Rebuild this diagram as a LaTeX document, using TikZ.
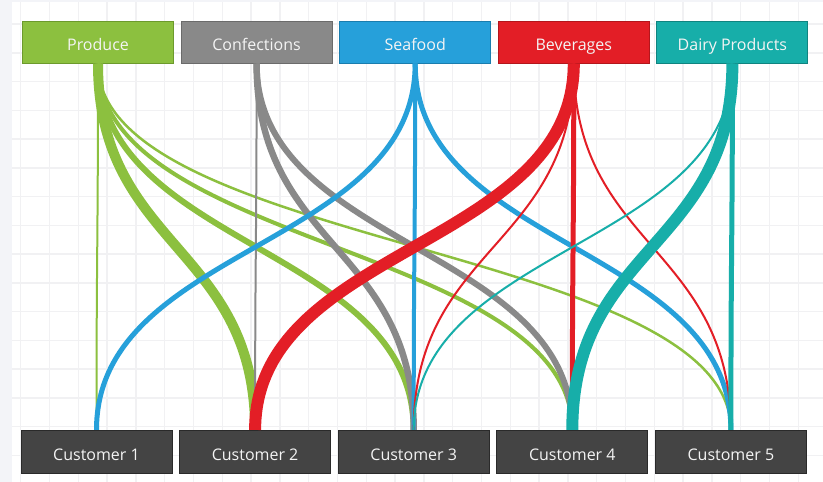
\documentclass[tikz,border=0pt]{standalone}
\usepackage{fontspec}
\setmainfont{Open Sans}
\usepackage{xcolor}
\usetikzlibrary{positioning}

\definecolor{producefill}{HTML}{8CC03F}
\definecolor{produceline}{HTML}{6C9A2C}
\definecolor{confectfill}{HTML}{898989}
\definecolor{confectline}{HTML}{6B6B6B}
\definecolor{seafoodfill}{HTML}{26A0DA}
\definecolor{seafoodline}{HTML}{1A7DAE}
\definecolor{beveragefill}{HTML}{E31E26}
\definecolor{beverageline}{HTML}{B3161C}
\definecolor{dairyfill}{HTML}{17AEA9}
\definecolor{dairyline}{HTML}{108480}
\definecolor{customerfill}{HTML}{444444}
\definecolor{customerline}{HTML}{2A2A2A}
\definecolor{gridline}{HTML}{F1F1F3}
\definecolor{sidestrip}{HTML}{F3F4F8}
\definecolor{labeltext}{HTML}{F4F4F4}

\tikzset{
  category/.style={draw=#1line, fill=#1fill, line width=1pt, minimum width=151pt,
    minimum height=42pt, inner sep=0pt, text=labeltext, text height=16pt, text depth=0pt,
    font=\fontsize{16}{18}\selectfont},
  customer/.style={draw=customerline, fill=customerfill, line width=1pt, minimum width=151pt,
    minimum height=43.5pt, inner sep=0pt, text=labeltext, text height=16pt, text depth=0pt,
    font=\fontsize{16}{18}\selectfont},
  flow/.style={draw=#1fill, line cap=butt},
}

\begin{document}
\begin{tikzpicture}[x=1pt, y=-1pt, node distance=6.6pt]
\useasboundingbox (0,0) rectangle (823,482);
\fill[white] (0,0) rectangle (823,482);
\fill[sidestrip] (0,0) rectangle (12,482);
\fill[sidestrip] (0,0) rectangle (823,2);
\foreach \k in {0,...,27}
  \draw[gridline, line width=1.5pt] (20.7+28.8*\k,2) -- (20.7+28.8*\k,482);
\foreach \k in {0,...,15}
  \draw[gridline, line width=1.5pt] (12,24+28.75*\k) -- (823,24+28.75*\k);

% categories on top
\node[category=produce] (produce) at (98,42) {Produce};
\node[category=confect, right=of produce] (confections) {Confections};
\node[category=seafood, right=of confections] (seafood) {Seafood};
\node[category=beverage, right=of seafood] (beverages) {Beverages};
\node[category=dairy, right=of beverages] (dairy) {Dairy Products};

% customers at the bottom
\node[customer] (cust1) at (96.5,452.2) {Customer 1};
\node[customer, right=of cust1] (cust2) {Customer 2};
\node[customer, right=of cust2] (cust3) {Customer 3};
\node[customer, right=of cust3] (cust4) {Customer 4};
\node[customer, right=of cust4] (cust5) {Customer 5};

% flows
\draw[flow=produce, line width=2pt] (produce.south) .. controls +(0,184) and +(0,-184) .. (cust1.north);
\draw[flow=produce, line width=10pt] (produce.south) .. controls +(0,184) and +(0,-184) .. (cust2.north);
\draw[flow=produce, line width=6pt] (produce.south) .. controls +(0,184) and +(0,-184) .. (cust3.north);
\draw[flow=produce, line width=4pt] (produce.south) .. controls +(0,184) and +(0,-184) .. (cust4.north);
\draw[flow=produce, line width=2.5pt] (produce.south) .. controls +(0,184) and +(0,-184) .. (cust5.north);

\draw[flow=confect, line width=2pt] (confections.south) .. controls +(0,184) and +(0,-184) .. (cust2.north);
\draw[flow=confect, line width=6.5pt] (confections.south) .. controls +(0,184) and +(0,-184) .. (cust3.north);
\draw[flow=confect, line width=6pt] (confections.south) .. controls +(0,184) and +(0,-184) .. (cust4.north);

\draw[flow=seafood, line width=5pt] (seafood.south) .. controls +(0,184) and +(0,-184) .. (cust1.north);
\draw[flow=seafood, line width=4pt] (seafood.south) .. controls +(0,184) and +(0,-184) .. (cust3.north);
\draw[flow=seafood, line width=5pt] (seafood.south) .. controls +(0,184) and +(0,-184) .. (cust5.north);

\draw[flow=beverage, line width=12pt] (beverages.south) .. controls +(0,184) and +(0,-184) .. (cust2.north);
\draw[flow=beverage, line width=2pt] (beverages.south) .. controls +(0,184) and +(0,-184) .. (cust3.north);
\draw[flow=beverage, line width=5pt] (beverages.south) .. controls +(0,184) and +(0,-184) .. (cust4.north);
\draw[flow=beverage, line width=2pt] (beverages.south) .. controls +(0,184) and +(0,-184) .. (cust5.north);

\draw[flow=dairy, line width=2pt] (dairy.south) .. controls +(0,184) and +(0,-184) .. (cust3.north);
\draw[flow=dairy, line width=12pt] (dairy.south) .. controls +(0,184) and +(0,-184) .. (cust4.north);
\draw[flow=dairy, line width=5pt] (dairy.south) .. controls +(0,184) and +(0,-184) .. (cust5.north);

\end{tikzpicture}
\end{document}
